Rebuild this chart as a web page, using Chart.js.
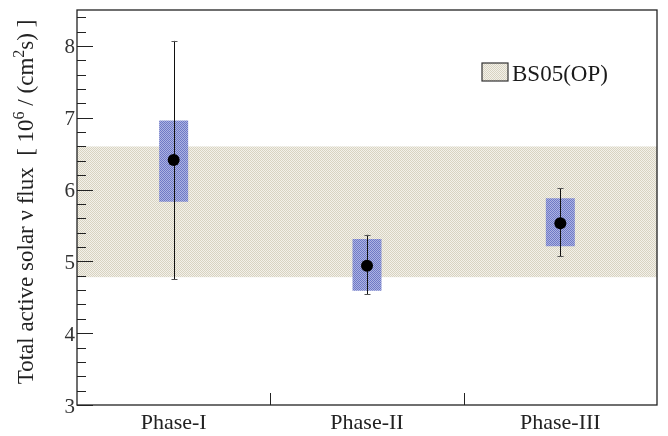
<!DOCTYPE html>
<html>
<head>
<meta charset="utf-8">
<script src="https://cdn.jsdelivr.net/npm/chart.js@4"></script>
<style>
  html, body { margin: 0; padding: 0; background: #fff; }
  #wrap { width: 668px; height: 436px; }
</style>
</head>
<body>
<div id="wrap"><canvas id="c" width="668" height="436"></canvas></div>
<script>
// Measured flux per data-taking phase, in units of 10^6 / (cm^2 s)
const categories = ['Phase-I', 'Phase-II', 'Phase-III'];
const central = [6.41, 4.94, 5.53];
const boxLow = [5.83, 4.59, 5.21];
const boxHigh = [6.96, 5.31, 5.88];
const errLow = [4.75, 4.54, 5.07];
const errHigh = [8.07, 5.37, 6.02];
// Standard solar model prediction band
const bandRange = [4.78, 6.60];
const bandLabel = 'BS05(OP)';
const yTicks = [3, 4, 5, 6, 7, 8];
const yMin = 3, yMax = 8.5, yMinorStep = 0.2;

const SERIF = '"Liberation Serif", "DejaVu Serif", serif';
const AXIS = '#222';

function checker(c1, c2) {
  const p = document.createElement('canvas');
  p.width = 2; p.height = 2;
  const g = p.getContext('2d');
  g.fillStyle = c1; g.fillRect(0, 0, 2, 2);
  g.fillStyle = c2; g.fillRect(0, 0, 1, 1); g.fillRect(1, 1, 1, 1);
  return g.createPattern(p, 'repeat');
}
const ctx0 = document.getElementById('c').getContext('2d');
const bandFill = checker('#f3f1ea', '#d8d3c1');
const boxFill = checker('#adb3e2', '#6e79c6');

// prediction band behind the data
const bandPlugin = {
  id: 'band',
  beforeDatasetsDraw(chart) {
    const { ctx, chartArea: a, scales: { y } } = chart;
    const top = y.getPixelForValue(bandRange[1]);
    const bot = y.getPixelForValue(bandRange[0]);
    ctx.save();
    ctx.fillStyle = bandFill;
    ctx.fillRect(a.left, top, a.right - a.left, bot - top);
    ctx.restore();
  }
};

// vertical error bars with small caps, then the central values
const errorPlugin = {
  id: 'errbars',
  afterDatasetsDraw(chart) {
    const { ctx, scales: { x, y } } = chart;
    ctx.save();
    ctx.lineWidth = 1;
    categories.forEach((c, i) => {
      const px = Math.round(x.getPixelForValue(i)) + 0.5;
      const t = y.getPixelForValue(errHigh[i]);
      const b = y.getPixelForValue(errLow[i]);
      ctx.strokeStyle = '#111';
      ctx.beginPath();
      ctx.moveTo(px, t); ctx.lineTo(px, b);
      ctx.stroke();
      ctx.strokeStyle = '#555';
      ctx.beginPath();
      ctx.moveTo(px - 3, Math.round(t) + 0.5); ctx.lineTo(px + 3, Math.round(t) + 0.5);
      ctx.moveTo(px - 3, Math.round(b) + 0.5); ctx.lineTo(px + 3, Math.round(b) + 0.5);
      ctx.stroke();
    });
    ctx.fillStyle = '#000';
    categories.forEach((c, i) => {
      ctx.beginPath();
      ctx.arc(x.getPixelForValue(i), y.getPixelForValue(central[i]), 6, 0, Math.PI * 2);
      ctx.fill();
    });
    ctx.restore();
  }
};

// frame, inward ticks, axis title and legend
const framePlugin = {
  id: 'frame',
  afterDraw(chart) {
    const { ctx, chartArea: a, scales: { x, y } } = chart;
    ctx.save();
    ctx.strokeStyle = AXIS;
    ctx.lineWidth = 1.3;
    ctx.strokeRect(a.left, a.top, a.right - a.left, a.bottom - a.top);

    ctx.lineWidth = 1;
    ctx.beginPath();
    for (let v = yMin; v <= yMax + 1e-9; v += yMinorStep) {
      const isMajor = Math.abs(v - Math.round(v)) < 1e-6;
      const py = Math.round(y.getPixelForValue(v)) + 0.5;
      ctx.moveTo(a.left, py);
      ctx.lineTo(a.left + (isMajor ? 16 : 9), py);
    }
    for (let i = 1; i < categories.length; i++) {
      const px = Math.round((x.getPixelForValue(i - 1) + x.getPixelForValue(i)) / 2) + 0.5;
      ctx.moveTo(px, a.bottom);
      ctx.lineTo(px, a.bottom - 12);
    }
    ctx.stroke();

    // y-axis title with superscripts
    const fs = 23;
    const parts = [
      ['Total active solar \u03bd flux  [ 10', false],
      ['6', true],
      [' / (cm', false],
      ['2', true],
      ['s) ]', false]
    ];
    const normal = fs + 'px ' + SERIF;
    const sup = Math.round(fs * 0.68) + 'px ' + SERIF;
    let total = 0;
    parts.forEach(([t, s]) => { ctx.font = s ? sup : normal; total += ctx.measureText(t).width; });
    ctx.translate(33, 202);
    ctx.rotate(-Math.PI / 2);
    ctx.fillStyle = '#222';
    ctx.textBaseline = 'alphabetic';
    ctx.textAlign = 'left';
    let cx = -total / 2;
    parts.forEach(([t, s]) => {
      ctx.font = s ? sup : normal;
      ctx.fillText(t, cx, s ? -9 : 0);
      cx += ctx.measureText(t).width;
    });
    ctx.setTransform(1, 0, 0, 1, 0, 0);

    // legend
    const lx = a.right - 175, ly = a.top + 53;
    ctx.fillStyle = bandFill;
    ctx.fillRect(lx, ly, 26, 18);
    ctx.strokeStyle = '#333';
    ctx.lineWidth = 1.2;
    ctx.strokeRect(lx, ly, 26, 18);
    ctx.fillStyle = '#1a1a1a';
    ctx.font = '23px ' + SERIF;
    ctx.textBaseline = 'alphabetic';
    ctx.fillText(bandLabel, lx + 30, ly + 18);
    ctx.restore();
  }
};

new Chart(ctx0, {
  data: {
    labels: categories,
    datasets: [{
      type: 'bar',
      data: boxLow.map((lo, i) => [lo, boxHigh[i]]),
      backgroundColor: boxFill,
      borderWidth: 0,
      barPercentage: 0.15,
      categoryPercentage: 1
    }]
  },
  options: {
    responsive: false,
    animation: false,
    events: [],
    layout: { padding: { top: 10, right: 11, left: 0, bottom: 0 } },
    plugins: { legend: { display: false }, tooltip: { enabled: false } },
    scales: {
      x: {
        type: 'category',
        offset: true,
        grid: { display: false, drawTicks: false },
        border: { display: false },
        ticks: { font: { family: SERIF, size: 22 }, color: '#222', padding: 5, maxRotation: 0 },
        afterFit(s) { s.height = 31; s.paddingLeft = 0; s.paddingRight = 0; }
      },
      y: {
        min: yMin, max: yMax,
        grid: { display: false, drawTicks: false },
        border: { display: false },
        ticks: { font: { family: SERIF, size: 21 }, color: '#333', padding: 2, labelOffset: 2 },
        afterBuildTicks(s) { s.ticks = yTicks.map(v => ({ value: v })); },
        afterFit(s) { s.width = 77; s.paddingTop = 0; s.paddingBottom = 0; }
      }
    }
  },
  plugins: [bandPlugin, errorPlugin, framePlugin]
});
</script>
</body>
</html>
